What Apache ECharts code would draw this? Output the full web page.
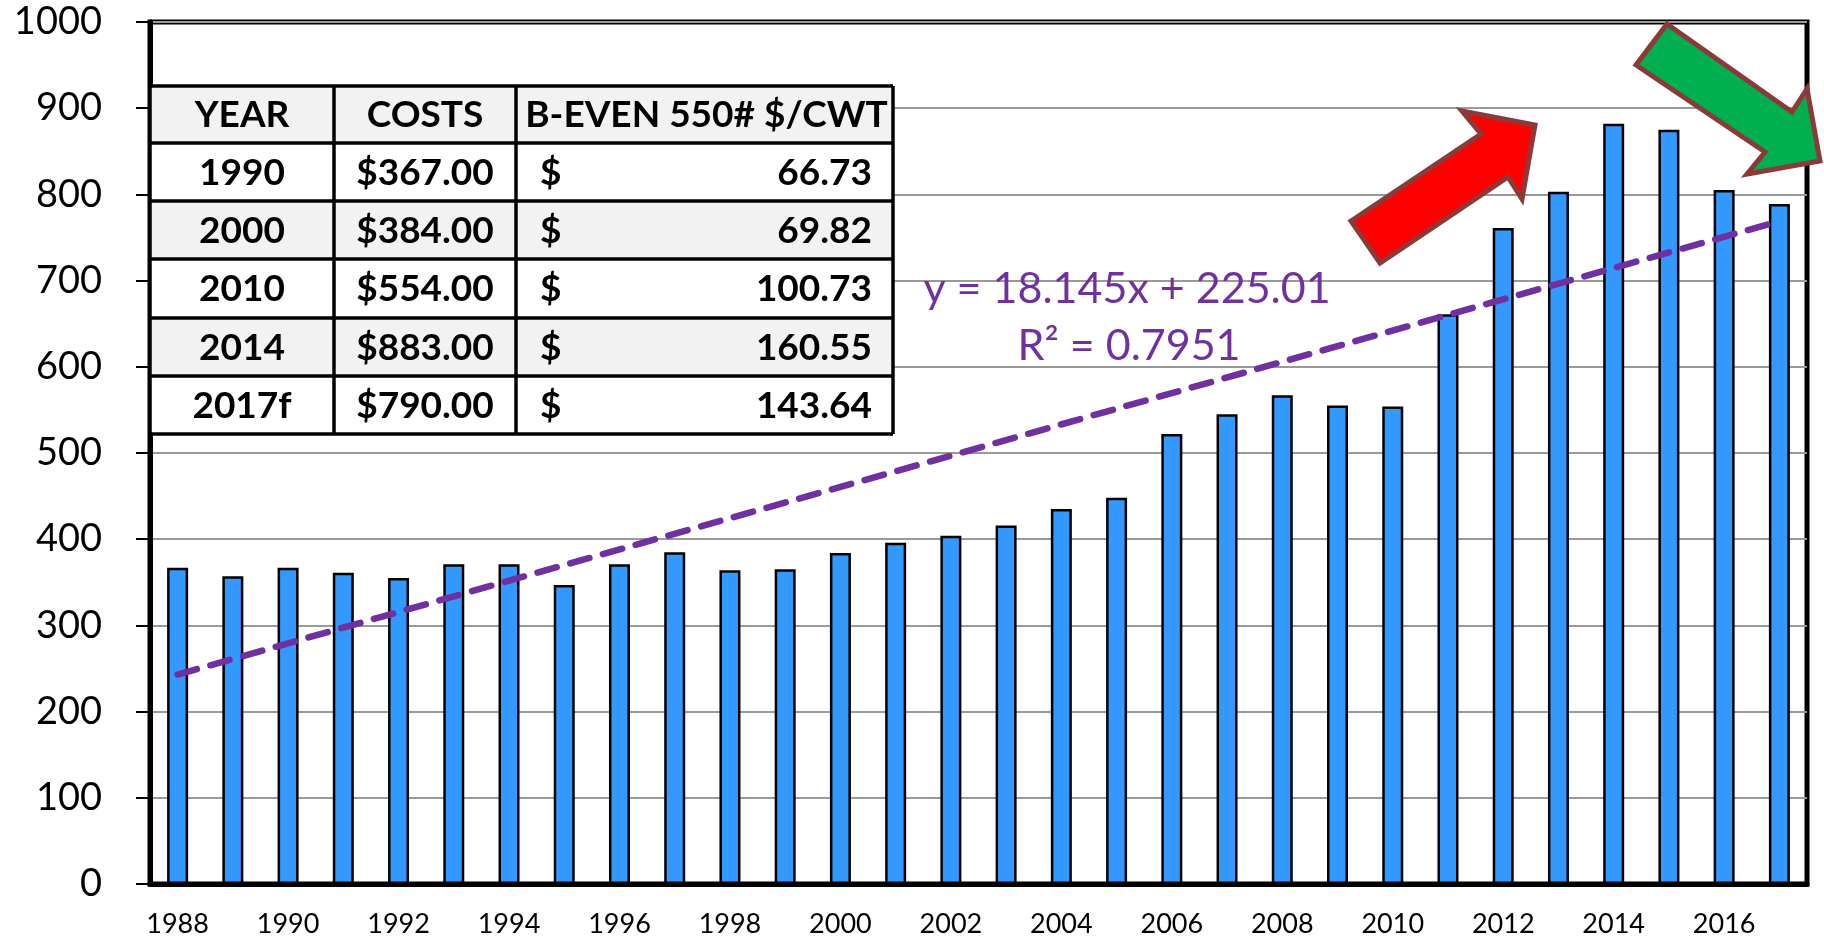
<!DOCTYPE html>
<html lang="en">
<head>
<meta charset="UTF-8">
<title>Cow costs</title>
<style>
    html, body { margin: 0; padding: 0; background: #fff; }
    #chart { width: 1824px; height: 940px; }
</style>
<script src="https://cdn.jsdelivr.net/npm/echarts@6/dist/echarts.min.js"></script>
</head>
<body>
<div id="chart"></div>
<script>
    // data
    var years = ['1988','1989','1990','1991','1992','1993','1994','1995','1996','1997',
                 '1998','1999','2000','2001','2002','2003','2004','2005','2006','2007',
                 '2008','2009','2010','2011','2012','2013','2014','2015','2016','2017'];
    var costs = [367, 357, 367, 361, 355, 371, 371, 347, 371, 385,
                 364, 365, 384, 396, 404, 416, 435, 448, 522, 545,
                 567, 555, 554, 661, 761, 803, 882, 875, 805, 789];

    // trend line end points (1988 and 2017)
    var trendStart = 243;
    var trendEnd = 769;
    var trendText = ['y = 18.145x + 225.01', 'R\u00B2 = 0.7951'];

    // table
    var tableHeader = ['YEAR', 'COSTS', 'B-EVEN 550# $/CWT'];
    var tableYears = ['1990', '2000', '2010', '2014', '2017f'];
    var tableCosts = ['$367.00', '$384.00', '$554.00', '$883.00', '$790.00'];
    var tableBreakeven = ['66.73', '69.82', '100.73', '160.55', '143.64'];

    var chart = echarts.init(document.getElementById('chart'));

    var trendData = years.map(function () { return null; });
    trendData[0] = trendStart;
    trendData[years.length - 1] = trendEnd;

    // table layout
    var colX = [150, 334, 516, 893];
    var rowY = [86, 143, 201, 259, 318, 376, 434];
    var tableFont = 'bold 37px Lato';
    var graphics = [];

    for (var r = 0; r < 6; r++) {
        graphics.push({
            type: 'rect', z: 20,
            shape: { x: colX[0], y: rowY[r], width: colX[3] - colX[0], height: rowY[r + 1] - rowY[r] },
            style: { fill: (r % 2 === 0) ? '#f2f2f2' : '#ffffff' }
        });
    }
    for (var i = 0; i < rowY.length; i++) {
        graphics.push({
            type: 'line', z: 21,
            shape: { x1: colX[0], y1: rowY[i], x2: colX[3], y2: rowY[i] },
            style: { stroke: '#000', lineWidth: 3.5 }
        });
    }
    for (var j = 0; j < colX.length; j++) {
        graphics.push({
            type: 'line', z: 21,
            shape: { x1: colX[j], y1: rowY[0], x2: colX[j], y2: rowY[6] },
            style: { stroke: '#000', lineWidth: 3.5 }
        });
    }
    function cellText(txt, x, y, align) {
        graphics.push({
            type: 'text', z: 22, x: x, y: y,
            style: { text: txt, font: tableFont, fill: '#000', align: align, verticalAlign: 'middle' }
        });
    }
    function rowMid(r) { return (rowY[r] + rowY[r + 1]) / 2 + 1; }

    cellText(tableHeader[0], (colX[0] + colX[1]) / 2, rowMid(0), 'center');
    cellText(tableHeader[1], (colX[1] + colX[2]) / 2, rowMid(0), 'center');
    cellText(tableHeader[2], (colX[2] + colX[3]) / 2 + 2, rowMid(0), 'center');
    for (var k = 0; k < tableYears.length; k++) {
        cellText(tableYears[k], (colX[0] + colX[1]) / 2, rowMid(k + 1), 'center');
        cellText(tableCosts[k], (colX[1] + colX[2]) / 2, rowMid(k + 1), 'center');
        cellText('$', 540, rowMid(k + 1), 'left');
        cellText(tableBreakeven[k], 872, rowMid(k + 1), 'right');
    }

    // trend equation
    graphics.push({
        type: 'text', z: 22, x: 1127, y: 289,
        style: { text: trendText[0], font: '43px Lato', fill: '#7030A0', align: 'center', verticalAlign: 'middle' }
    });
    graphics.push({
        type: 'text', z: 22, x: 1129, y: 346,
        style: { text: trendText[1], font: '43px Lato', fill: '#7030A0', align: 'center', verticalAlign: 'middle' }
    });

    // arrows
    graphics.push({
        type: 'polygon', z: 30,
        shape: { points: [[1351, 221], [1481, 134], [1462, 111], [1535, 125], [1522, 199], [1508, 177], [1380, 263]] },
        style: { fill: '#ff0000', stroke: '#8b3a3a', lineWidth: 5, lineJoin: 'miter' }
    });
    graphics.push({
        type: 'polygon', z: 30,
        shape: { points: [[1667, 24], [1792, 112], [1807, 89], [1820, 161], [1747, 174], [1765, 152], [1636, 65]] },
        style: { fill: '#00b050', stroke: '#8b3a3a', lineWidth: 5, lineJoin: 'miter' }
    });

    var option = {
        animation: false,
        backgroundColor: '#fff',
        grid: {
            left: 150, right: 17, top: 22, bottom: 56,
            show: true, borderColor: '#000', borderWidth: 5
        },
        xAxis: {
            type: 'category',
            data: years,
            boundaryGap: true,
            axisLine: { lineStyle: { color: '#000', width: 5 } },
            axisTick: { interval: 0, length: 9, lineStyle: { color: '#000', width: 2 } },
            axisLabel: { interval: 1, margin: 27, fontFamily: 'Lato', fontSize: 27, color: '#000' },
            splitLine: { show: false }
        },
        yAxis: {
            type: 'value',
            min: 0, max: 1000, interval: 100,
            axisLine: { show: true, lineStyle: { color: '#000', width: 5 } },
            axisTick: { show: true, length: 14, lineStyle: { color: '#000', width: 2 } },
            axisLabel: {
                margin: 48, fontFamily: 'Lato', fontSize: 38, color: '#000',
                formatter: function (v) { return String(v); }
            },
            splitLine: { lineStyle: { color: '#9a9a9a', width: 2 } }
        },
        series: [
            {
                type: 'bar',
                data: costs,
                barWidth: 21,
                itemStyle: { color: '#3399ff', borderColor: '#000', borderWidth: 2.5 }
            },
            {
                type: 'line',
                data: trendData,
                connectNulls: true,
                symbol: 'none',
                z: 5,
                lineStyle: { color: '#7030a0', width: 6.5, type: [20, 14], cap: 'round' }
            }
        ],
        graphic: graphics
    };

    chart.setOption(option);
</script>
</body>
</html>
